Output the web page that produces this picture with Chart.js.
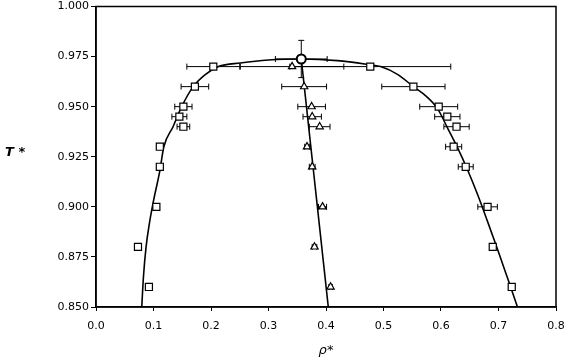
<!DOCTYPE html>
<html>
<head>
<meta charset="utf-8">
<script src="https://cdn.jsdelivr.net/npm/chart.js@4/dist/chart.umd.min.js"></script>
<style>
  html, body { margin: 0; padding: 0; background: #fff; }
  #wrap { position: relative; width: 575px; height: 362px; }
  #ylab { position: absolute; left: 5px; top: 144px; font: oblique bold 13px "DejaVu Sans", sans-serif; color: #000; }
</style>
</head>
<body>
<div id="wrap">
  <canvas id="myChart" width="575" height="362"></canvas>
  <div id="ylab">T *</div>
</div>
<script>
const ctx = document.getElementById("myChart").getContext("2d");

// simulation points (squares = coexisting phases)
const sqX = [0.204, 0.172, 0.152, 0.145, 0.152, 0.111, 0.111, 0.105, 0.073, 0.092,
             0.477, 0.552, 0.596, 0.611, 0.627, 0.622, 0.643, 0.681, 0.690, 0.723];
const sqY = [0.970, 0.960, 0.950, 0.945, 0.940, 0.930, 0.920, 0.900, 0.880, 0.860,
             0.970, 0.960, 0.950, 0.945, 0.940, 0.930, 0.920, 0.900, 0.880, 0.860];
const sqErr = [0.046, 0.024, 0.015, 0.013, 0.011, 0, 0.004, 0.005, 0, 0,
               0.14, 0.055, 0.033, 0.022, 0.022, 0.014, 0.013, 0.017, 0.004, 0.005];

// rectilinear diameter points (triangles)
const triX = [0.341, 0.362, 0.375, 0.376, 0.389, 0.367, 0.376, 0.394, 0.380, 0.408];
const triY = [0.970, 0.960, 0.950, 0.945, 0.940, 0.930, 0.920, 0.900, 0.880, 0.860];
const triErr = [0.09, 0.039, 0.024, 0.016, 0.018, 0.004, 0.005, 0.007, 0.004, 0.003];

// critical point
const critX = [0.357];
const critY = [0.9738];
const critErrX = [0.045];
const critErrY = [0.0093];

// fitted coexistence curve
const curveX = [0.0796, 0.0825, 0.0871, 0.093, 0.100, 0.111, 0.118, 0.134, 0.149, 0.169, 0.190, 0.213,
                0.251, 0.300, 0.357, 0.420, 0.470, 0.495, 0.525, 0.552, 0.575, 0.594, 0.6115, 0.6289,
                0.6463, 0.6638, 0.6812, 0.6986, 0.716, 0.733];
const curveY = [0.850, 0.865, 0.880, 0.892, 0.903, 0.918, 0.930, 0.940, 0.950, 0.960, 0.966, 0.970,
                0.9718, 0.9733, 0.9738, 0.9730, 0.9712, 0.970, 0.966, 0.960, 0.955, 0.949, 0.9393, 0.9294,
                0.9184, 0.906, 0.8925, 0.8786, 0.8642, 0.850];

// fitted diameter line
const diamX = [0.357, 0.404];
const diamY = [0.9738, 0.850];

const pts = (xs, ys) => xs.map((x, i) => ({ x: x, y: ys[i] }));

const errorBars = {
    id: "errorBars",
    beforeDatasetsDraw(chart) {
        const c = chart.ctx;
        const sx = chart.scales.x, sy = chart.scales.y;
        c.save();
        c.strokeStyle = "#000";
        c.lineWidth = 1;
        chart.data.datasets.forEach(ds => {
            ds.data.forEach((p, i) => {
                const px = sx.getPixelForValue(p.x), py = sy.getPixelForValue(p.y);
                if (ds.errX && ds.errX[i]) {
                    const x1 = sx.getPixelForValue(p.x - ds.errX[i]);
                    const x2 = sx.getPixelForValue(p.x + ds.errX[i]);
                    c.beginPath();
                    c.moveTo(x1, py); c.lineTo(x2, py);
                    c.moveTo(x1, py - 3); c.lineTo(x1, py + 3);
                    c.moveTo(x2, py - 3); c.lineTo(x2, py + 3);
                    c.stroke();
                }
                if (ds.errY && ds.errY[i]) {
                    const y1 = sy.getPixelForValue(p.y - ds.errY[i]);
                    const y2 = sy.getPixelForValue(p.y + ds.errY[i]);
                    c.beginPath();
                    c.moveTo(px, y1); c.lineTo(px, y2);
                    c.moveTo(px - 3, y1); c.lineTo(px + 3, y1);
                    c.moveTo(px - 3, y2); c.lineTo(px + 3, y2);
                    c.stroke();
                }
            });
        });
        c.restore();
    }
};

const frame = {
    id: "frame",
    afterDraw(chart) {
        const a = chart.chartArea, c = chart.ctx;
        c.save();
        c.strokeStyle = "#000";
        c.lineWidth = 1.5;
        c.strokeRect(a.left, a.top, a.right - a.left, a.bottom - a.top);
        c.restore();
    }
};

const tickFont = { family: "DejaVu Sans, sans-serif", size: 11 };

const myChart = new Chart(ctx, {
    type: "scatter",
    data: {
        datasets: [
            {
                label: "critical",
                data: pts(critX, critY),
                errX: critErrX,
                errY: critErrY,
                pointStyle: "circle",
                pointRadius: 4.5,
                borderColor: "#000",
                backgroundColor: "#fff",
                borderWidth: 2,
            },
            {
                label: "squares",
                data: pts(sqX, sqY),
                errX: sqErr,
                pointStyle: "rect",
                pointRadius: 5,
                borderColor: "#000",
                backgroundColor: "#fff",
                borderWidth: 1.2,
            },
            {
                label: "triangles",
                data: pts(triX, triY),
                errX: triErr,
                pointStyle: "triangle",
                pointRadius: 4.2,
                borderColor: "#000",
                backgroundColor: "#fff",
                borderWidth: 1.2,
            },
            {
                label: "curve",
                type: "line",
                data: pts(curveX, curveY),
                borderColor: "#000",
                borderWidth: 1.6,
                pointRadius: 0,
                cubicInterpolationMode: "monotone",
                fill: false,
            },
            {
                label: "diameter",
                type: "line",
                data: pts(diamX, diamY),
                borderColor: "#000",
                borderWidth: 1.6,
                pointRadius: 0,
                fill: false,
            },
        ],
    },
    options: {
        responsive: false,
        animation: false,
        layout: { padding: { top: 5, right: 19, left: 0, bottom: 0 } },
        plugins: {
            legend: { display: false },
            tooltip: { enabled: false },
        },
        scales: {
            x: {
                type: "linear",
                min: 0,
                max: 0.8,
                afterFit: s => { s.height = 55; },
                ticks: {
                    stepSize: 0.1,
                    color: "#000",
                    font: tickFont,
                    padding: 9,
                    callback: v => v.toFixed(1),
                },
                grid: { drawOnChartArea: false, color: "#000", tickLength: 4 },
                border: { color: "#000", width: 1.5 },
                title: {
                    display: true,
                    text: "ρ*",
                    color: "#000",
                    padding: { top: 4 },
                    font: { family: "DejaVu Sans, sans-serif", size: 13, style: "italic" },
                },
            },
            y: {
                type: "linear",
                min: 0.85,
                max: 1.0,
                afterFit: s => { s.width = 96; s.paddingTop = 0; s.paddingBottom = 0; },
                ticks: {
                    stepSize: 0.025,
                    color: "#000",
                    font: tickFont,
                    padding: 2,
                    callback: v => v.toFixed(3),
                },
                grid: { drawOnChartArea: false, color: "#000", tickLength: 5 },
                border: { color: "#000", width: 1.5 },
            },
        },
    },
    plugins: [errorBars, frame],
});
</script>
</body>
</html>
